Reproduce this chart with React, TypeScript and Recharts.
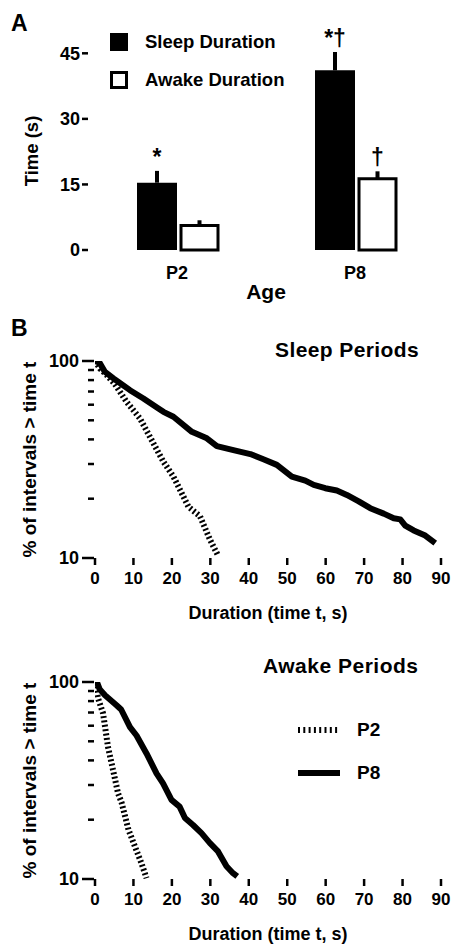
import React from 'react';
import {
  Bar,
  BarChart,
  ErrorBar,
  LabelList,
  Legend,
  Line,
  LineChart,
  XAxis,
  YAxis,
} from 'recharts';

// Panel A: mean durations (s) with upward SEM
const ages = ['P2', 'P8'];
const sleepMean = [15.4, 41.1];
const sleepSem = [2.7, 4.2];
const awakeMean = [5.6, 16.3];
const awakeSem = [1.2, 1.7];
const sleepSig = ['*', '*†'];
const awakeSig = ['', '†'];
const timeTicks = [0, 15, 30, 45];

// Panel B: survival curves, [duration t (s), % of intervals > t]
const durationTicks = [0, 10, 20, 30, 40, 50, 60, 70, 80, 90];
const pctTicks = [10, 20, 30, 40, 50, 60, 70, 80, 90, 100];

const sleepP2: [number, number][] = [
  [0, 100], [1.3, 91.5], [3, 85], [5.2, 76.2], [8.2, 62.1], [11.7, 51.1],
  [15.2, 38.2], [17.8, 30.8], [20.4, 25.9], [23, 20.5], [24.3, 18.2],
  [27.3, 16.3], [29.9, 12.4], [32.1, 10.2],
];
const sleepP8: [number, number][] = [
  [0, 100], [1.2, 98], [2.6, 88], [4.8, 81.6], [6.1, 78.3], [9.1, 71.1], [12.6, 64.5],
  [16.5, 57.4], [17.8, 55.2], [20.4, 52.1], [25.2, 43.7], [29.1, 40.5],
  [31.7, 37], [36, 35.3], [40.4, 33.7], [43.8, 31.7], [47.3, 29.7],
  [51.2, 25.9], [54.7, 24.7], [56.9, 23.5], [59.9, 22.6], [62.9, 22],
  [65.5, 20.9], [68.6, 19.4], [71.6, 17.9], [75.1, 16.8], [77.7, 15.9],
  [79.4, 15.7], [80.7, 14.6], [82.9, 13.8], [85.9, 13], [88.5, 11.9],
];
const awakeP2: [number, number][] = [
  [0, 100], [0.8, 82.6], [2.1, 69.3], [3.4, 46.6], [4.7, 35.7], [6, 27.2],
  [6.9, 24.5], [8.7, 17.8], [10.4, 14.6], [12.1, 12], [13.4, 10.1],
];
const awakeP8: [number, number][] = [
  [0.5, 100], [1.2, 92], [2.6, 85.6], [5.6, 76.2], [6.8, 72.5], [9.1, 59], [10.8, 53.5],
  [13.4, 43.4], [16, 34.4], [17.7, 30.6], [19.9, 25.2], [22, 23.3],
  [23.4, 20.4], [25.5, 18.8], [27.7, 17.1], [29.9, 15.2], [32, 13.8],
  [34.2, 11.6], [35.9, 10.7], [37, 10.3],
];

const FONT = '"Liberation Sans", Arial, Helvetica, sans-serif';
const TICK = { fill: '#000', fontSize: 18, fontWeight: 700 };
const DASH = '2 2.4';

const barData = ages.map((age, i) => ({
  age,
  sleep: sleepMean[i],
  sleepErr: [0, sleepSem[i]],
  sleepSig: sleepSig[i],
  awake: awakeMean[i],
  awakeErr: [0, awakeSem[i]],
  awakeSig: awakeSig[i],
}));

const toPoints = (rows: [number, number][]) => rows.map(([t, pct]) => ({ t, pct }));

function sigLabel(values: number[], sems: number[]) {
  return (props: any) => {
    const vb = props.viewBox || props;
    const { x, y, width, height } = vb;
    const { index, value } = props;
    if (!value) return null;
    const pxPerUnit = height / values[index];
    const top = y - sems[index] * pxPerUnit;
    return (
      <text x={x + width / 2} y={top - 6} textAnchor="middle" fontSize={23} fontWeight={700} fill="#000">
        {value}
      </text>
    );
  };
}

function PctTick(props: any) {
  const { x, y, payload } = props;
  const v = payload.value;
  const major = v === 10 || v === 100;
  return (
    <g>
      <line x1={x - (major ? 13 : 7)} x2={x - 1} y1={y} y2={y} stroke="#000" strokeWidth={2.5} />
      {major && (
        <text x={x - 16} y={y} dy="0.36em" textAnchor="end" fontSize={18} fontWeight={700} fill="#000">
          {v}
        </text>
      )}
    </g>
  );
}

function BarLegend() {
  const rows = [
    { label: 'Sleep Duration', fill: '#000' },
    { label: 'Awake Duration', fill: '#fff' },
  ];
  return (
    <div>
      {rows.map((r) => (
        <div key={r.label} style={{ display: 'flex', alignItems: 'center', height: 38, fontSize: 18.5, fontWeight: 700 }}>
          <span
            style={{
              display: 'inline-block',
              width: 18,
              height: 18,
              boxSizing: 'border-box',
              background: r.fill,
              border: '3px solid #000',
              marginRight: 17,
            }}
          />
          <span>{r.label}</span>
        </div>
      ))}
    </div>
  );
}

function AgeLegend() {
  const rows = [
    { label: 'P2', dash: '2 3.3' },
    { label: 'P8', dash: undefined },
  ];
  return (
    <div>
      {rows.map((r) => (
        <div key={r.label} style={{ display: 'flex', alignItems: 'center', height: 43, fontSize: 19, fontWeight: 700 }}>
          <svg width={42} height={8} style={{ marginRight: 17 }}>
            <line x1={0} x2={42} y1={4} y2={4} stroke="#000" strokeWidth={6} strokeDasharray={r.dash} />
          </svg>
          <span>{r.label}</span>
        </div>
      ))}
    </div>
  );
}

function Title({ text, left, top, size = 21, spacing = 0 }: { text: string; left: number; top: number; size?: number; spacing?: number }) {
  return (
    <div
      style={{
        position: 'absolute',
        left,
        top,
        fontSize: size,
        lineHeight: `${size}px`,
        fontWeight: 700,
        letterSpacing: spacing,
        whiteSpace: 'nowrap',
      }}
    >
      {text}
    </div>
  );
}

function SurvivalChart({
  p2,
  p8,
  height,
  marginTop,
  marginBottom,
  withLegend,
}: {
  p2: [number, number][];
  p8: [number, number][];
  height: number;
  marginTop: number;
  marginBottom: number;
  withLegend?: boolean;
}) {
  return (
    <LineChart width={452} height={height} margin={{ top: marginTop, right: 11, bottom: marginBottom, left: 0 }}>
      <XAxis
        dataKey="t"
        type="number"
        domain={[0, 90]}
        ticks={durationTicks}
        interval={0}
        allowDataOverflow
        axisLine={false}
        tickLine={{ stroke: '#000', strokeWidth: 2.5 }}
        tickSize={7}
        tickMargin={7}
        tick={{ ...TICK, fontSize: 17 }}
        height={64}
        label={{
          value: 'Duration (time t, s)',
          position: 'insideBottom',
          offset: 3,
          fill: '#000',
          fontSize: 18,
          fontWeight: 700,
        }}
      />
      <YAxis
        dataKey="pct"
        scale="log"
        domain={[10, 100]}
        ticks={pctTicks}
        interval={0}
        allowDataOverflow
        axisLine={false}
        tickLine={false}
        tickSize={0}
        tickMargin={0}
        width={95}
        tick={<PctTick />}
        label={{
          value: '% of intervals > time t',
          angle: -90,
          position: 'insideLeft',
          offset: 29,
          fill: '#000',
          fontSize: 19,
          fontWeight: 700,
          style: { textAnchor: 'middle' },
        }}
      />
      {withLegend && (
        <Legend
          layout="vertical"
          align="center"
          verticalAlign="middle"
          content={<AgeLegend />}
          wrapperStyle={{ left: 298, top: 78, width: 120 }}
        />
      )}
      <Line
        data={toPoints(p2)}
        dataKey="pct"
        name="P2"
        stroke="#000"
        strokeWidth={6}
        strokeDasharray={DASH}
        dot={false}
        isAnimationActive={false}
      />
      <Line
        data={toPoints(p8)}
        dataKey="pct"
        name="P8"
        stroke="#000"
        strokeWidth={6}
        strokeLinejoin="round"
        dot={false}
        isAnimationActive={false}
      />
    </LineChart>
  );
}

export default function App() {
  return (
    <div
      style={{
        position: 'absolute',
        left: 0,
        top: 0,
        width: 452,
        height: 944,
        background: '#fff',
        color: '#000',
        fontFamily: FONT,
        fontWeight: 700,
      }}
    >
      <Title text="A" left={11} top={12} size={23} />
      <div style={{ position: 'absolute', left: 0, top: 0 }}>
        <BarChart width={452} height={310} data={barData} margin={{ top: 52, right: 8, bottom: 5, left: 28 }}>
          <XAxis
            dataKey="age"
            axisLine={false}
            tickLine={false}
            tickSize={0}
            tickMargin={16}
            tick={TICK}
            height={55}
            label={{ value: 'Age', position: 'insideBottom', offset: 6, fill: '#000', fontSize: 21, fontWeight: 700 }}
          />
          <YAxis
            domain={[0, 45]}
            ticks={timeTicks}
            interval={0}
            axisLine={false}
            tickLine={{ stroke: '#000', strokeWidth: 2.5 }}
            tickSize={6}
            tickMargin={2}
            tick={TICK}
            width={60}
            label={{
              value: 'Time (s)',
              angle: -90,
              position: 'insideLeft',
              offset: 3,
              fill: '#000',
              fontSize: 18.5,
              fontWeight: 700,
              style: { textAnchor: 'middle' },
            }}
          />
          <Legend
            layout="vertical"
            align="center"
            verticalAlign="middle"
            content={<BarLegend />}
            wrapperStyle={{ left: 110, top: 23, width: 200 }}
          />
          <Bar dataKey="sleep" fill="#000" barSize={40} isAnimationActive={false}>
            <ErrorBar dataKey="sleepErr" direction="y" width={0} stroke="#000" strokeWidth={4} />
            <LabelList dataKey="sleepSig" content={sigLabel(sleepMean, sleepSem)} />
          </Bar>
          <Bar dataKey="awake" fill="#fff" stroke="#000" strokeWidth={3} barSize={37} isAnimationActive={false}>
            <ErrorBar dataKey="awakeErr" direction="y" width={0} stroke="#000" strokeWidth={4} />
            <LabelList dataKey="awakeSig" content={sigLabel(awakeMean, awakeSem)} />
          </Bar>
        </BarChart>
      </div>

      <Title text="B" left={11} top={317} size={23} />
      <Title text="Sleep Periods" left={275} top={339} spacing={0.4} />
      <div style={{ position: 'absolute', left: 0, top: 310 }}>
        <SurvivalChart p2={sleepP2} p8={sleepP8} height={320} marginTop={51} marginBottom={8} />
      </div>

      <Title text="Awake Periods" left={263} top={655} spacing={0.5} />
      <div style={{ position: 'absolute', left: 0, top: 630 }}>
        <SurvivalChart p2={awakeP2} p8={awakeP8} height={314} marginTop={52} marginBottom={1} withLegend />
      </div>
    </div>
  );
}
